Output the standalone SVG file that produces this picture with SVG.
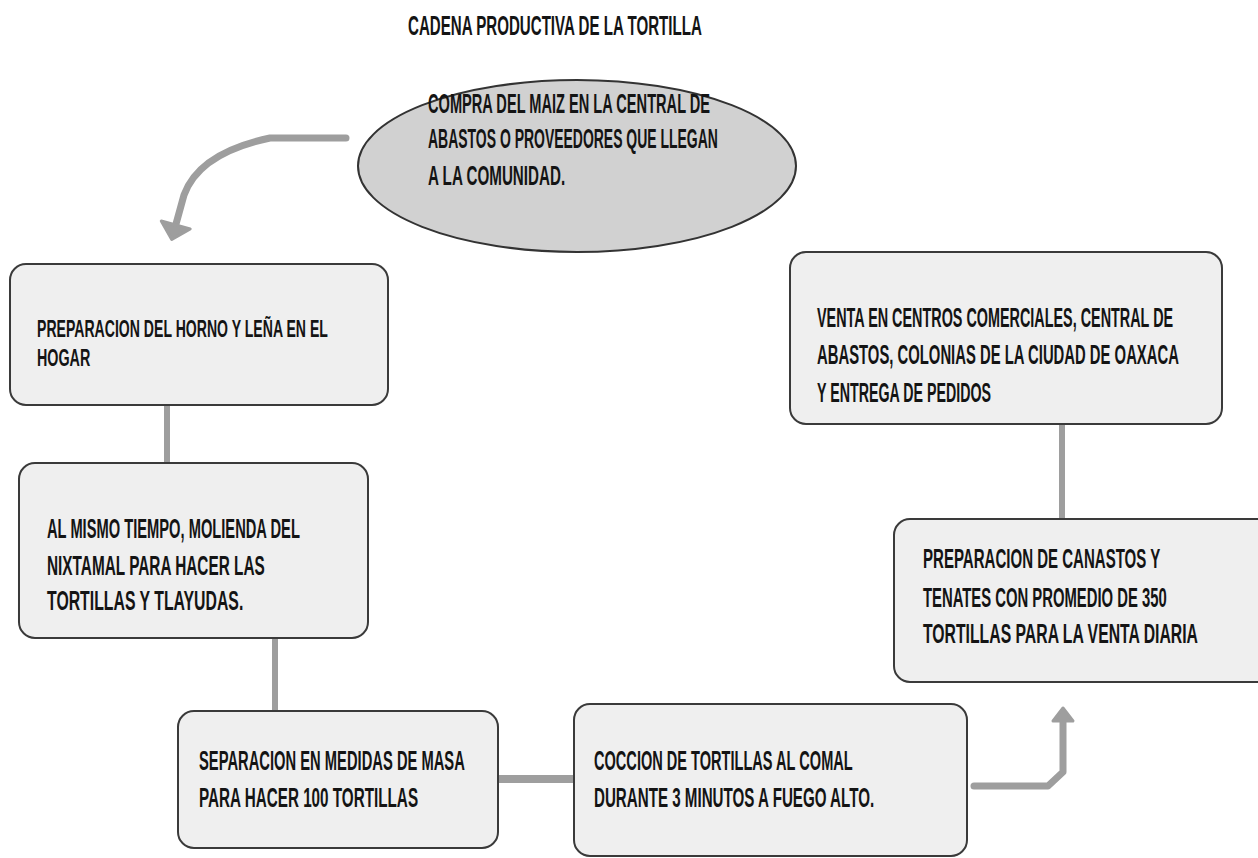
<svg xmlns="http://www.w3.org/2000/svg" width="1258" height="858" viewBox="0 0 1258 858">
<style>
.bg{fill:#ffffff}
.box{fill:#efefef;stroke:#3a3a3a;stroke-width:2}
.ell{fill:#d1d1d1;stroke:#333333;stroke-width:2}
.t{font-family:"Liberation Sans Narrow","Liberation Sans",Arial,sans-serif;font-weight:bold;fill:#141414;font-size:28px}
.t1{font-size:23px}
.ln{fill:none;stroke:#9e9e9e;stroke-width:6;stroke-linecap:round;stroke-linejoin:round}
.ar{fill:none;stroke:#9e9e9e;stroke-width:7;stroke-linecap:round;stroke-linejoin:round}
.head{fill:#9e9e9e;stroke:#9e9e9e;stroke-width:3;stroke-linejoin:round}
</style>
<defs>
<marker id="hdBig" markerUnits="userSpaceOnUse" viewBox="0 -18 20 36" refX="1" refY="0" markerWidth="20" markerHeight="36" orient="auto">
<path class="head" d="M2,-15 L17,0 L2,15 Z"/>
</marker>
<marker id="hdSmall" markerUnits="userSpaceOnUse" viewBox="0 -13 18 26" refX="1" refY="0" markerWidth="18" markerHeight="26" orient="auto">
<path class="head" d="M2,-10 L15,0 L2,10 Z"/>
</marker>
</defs>
<rect class="bg" x="0" y="0" width="1258" height="858"/>
<text class="t" transform="translate(408,35) scale(0.65,1)" textLength="452" lengthAdjust="spacingAndGlyphs">CADENA PRODUCTIVA DE LA TORTILLA</text>
<g id="connectors">
<path class="ar" d="M346,138 L270,138 C232,146 196,162 184,195 L176,224" marker-end="url(#hdBig)"/>
<path class="ln" d="M167,405 L167,463"/>
<path class="ln" d="M275,638 L275,711"/>
<path class="ln" d="M498,779 L574,779" style="stroke-width:8;stroke-linecap:butt"/>
<path class="ar" d="M974,786 L1048,786 L1063,772 L1063,722" marker-end="url(#hdSmall)"/>
<path class="ln" d="M1062,424 L1062,519" style="stroke-linecap:butt"/>
</g>
<g id="n_compra">
<ellipse class="ell" cx="577" cy="166" rx="219" ry="86"/>
<text class="t" transform="translate(428,113) scale(0.65,1)" textLength="434" lengthAdjust="spacingAndGlyphs">COMPRA DEL MAIZ EN LA CENTRAL DE</text>
<text class="t" transform="translate(428,148) scale(0.65,1)" textLength="446" lengthAdjust="spacingAndGlyphs">ABASTOS O PROVEEDORES QUE LLEGAN</text>
<text class="t" transform="translate(428,185) scale(0.65,1)" textLength="211" lengthAdjust="spacingAndGlyphs">A LA COMUNIDAD.</text>
</g>
<g id="n_horno">
<rect class="box" x="10" y="264" width="378" height="141" rx="16"/>
<text class="t t1" transform="translate(37,337) scale(0.72,1)" textLength="404" lengthAdjust="spacingAndGlyphs">PREPARACION DEL HORNO Y LEÑA EN EL</text>
<text class="t t1" transform="translate(37,366) scale(0.72,1)" textLength="74" lengthAdjust="spacingAndGlyphs">HOGAR</text>
</g>
<g id="n_molienda">
<rect class="box" x="19" y="463" width="349" height="175" rx="16"/>
<text class="t" transform="translate(47,538) scale(0.65,1)" textLength="389" lengthAdjust="spacingAndGlyphs">AL MISMO TIEMPO, MOLIENDA DEL</text>
<text class="t" transform="translate(47,575) scale(0.65,1)" textLength="335" lengthAdjust="spacingAndGlyphs">NIXTAMAL PARA HACER LAS</text>
<text class="t" transform="translate(47,610) scale(0.65,1)" textLength="302" lengthAdjust="spacingAndGlyphs">TORTILLAS Y TLAYUDAS.</text>
</g>
<g id="n_separacion">
<rect class="box" x="178" y="711" width="320" height="137" rx="16"/>
<text class="t" transform="translate(199,770) scale(0.65,1)" textLength="409" lengthAdjust="spacingAndGlyphs">SEPARACION EN MEDIDAS DE MASA</text>
<text class="t" transform="translate(199,807) scale(0.65,1)" textLength="337" lengthAdjust="spacingAndGlyphs">PARA HACER 100 TORTILLAS</text>
</g>
<g id="n_coccion">
<rect class="box" x="574" y="704" width="393" height="152" rx="16"/>
<text class="t" transform="translate(594,770) scale(0.65,1)" textLength="398" lengthAdjust="spacingAndGlyphs">COCCION DE TORTILLAS AL COMAL</text>
<text class="t" transform="translate(594,807) scale(0.65,1)" textLength="431" lengthAdjust="spacingAndGlyphs">DURANTE 3 MINUTOS A FUEGO ALTO.</text>
</g>
<g id="n_canastos">
<rect class="box" x="894" y="519" width="380" height="163" rx="16"/>
<text class="t" transform="translate(923,568) scale(0.65,1)" textLength="365" lengthAdjust="spacingAndGlyphs">PREPARACION DE CANASTOS Y</text>
<text class="t" transform="translate(923,607) scale(0.65,1)" textLength="375" lengthAdjust="spacingAndGlyphs">TENATES CON PROMEDIO DE 350</text>
<text class="t" transform="translate(923,643) scale(0.65,1)" textLength="423" lengthAdjust="spacingAndGlyphs">TORTILLAS PARA LA VENTA DIARIA</text>
</g>
<g id="n_venta">
<rect class="box" x="790" y="252" width="432" height="172" rx="16"/>
<text class="t" transform="translate(817,327) scale(0.58,1)" textLength="614" lengthAdjust="spacingAndGlyphs">VENTA EN CENTROS COMERCIALES, CENTRAL DE</text>
<text class="t" transform="translate(817,364) scale(0.58,1)" textLength="624" lengthAdjust="spacingAndGlyphs">ABASTOS, COLONIAS DE LA CIUDAD DE OAXACA</text>
<text class="t" transform="translate(817,402) scale(0.58,1)" textLength="300" lengthAdjust="spacingAndGlyphs">Y ENTREGA DE PEDIDOS</text>
</g>
</svg>
